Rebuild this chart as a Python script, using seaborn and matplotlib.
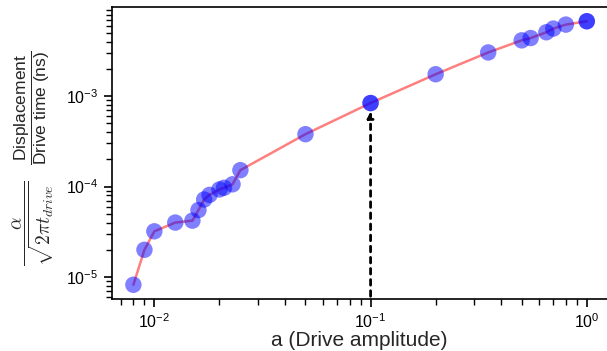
import numpy as np
import pandas as pd
import seaborn as sns
import matplotlib.pyplot as plt
from matplotlib.ticker import LogLocator, NullFormatter

# Measured displacement rate vs drive amplitude
amplitude = [0.008, 0.009, 0.010, 0.0125, 0.015, 0.016, 0.017, 0.018, 0.020,
             0.021, 0.023, 0.025, 0.05, 0.1, 0.2, 0.35, 0.5, 0.55, 0.65, 0.7,
             0.8, 1.0]
rate = [8.2e-6, 2.0e-5, 3.2e-5, 4.0e-5, 4.2e-5, 5.5e-5, 7.2e-5, 8.1e-5, 9.3e-5,
        9.7e-5, 1.06e-4, 1.52e-4, 3.8e-4, 8.4e-4, 1.75e-3, 3.05e-3, 4.15e-3,
        4.4e-3, 5.1e-3, 5.6e-3, 6.2e-3, 6.75e-3]

# Repeated measurements at the reference amplitudes
ref_amplitude = [0.1, 1.0]
ref_rate = [8.4e-4, 6.75e-3]

df = pd.DataFrame({'a': amplitude, 'rate': rate})
ref = pd.DataFrame({'a': ref_amplitude, 'rate': ref_rate})

sns.set_style('ticks')
plt.rcParams['font.family'] = ['Liberation Sans', 'DejaVu Sans']
plt.rcParams['mathtext.fontset'] = 'custom'
plt.rcParams['mathtext.rm'] = 'Liberation Sans'
plt.rcParams['mathtext.it'] = 'Liberation Sans:italic'
plt.rcParams['axes.edgecolor'] = 'black'
plt.rcParams['axes.linewidth'] = 1.2

fig, ax = plt.subplots(figsize=(6.07, 3.51), dpi=100)
fig.subplots_adjust(left=0.184, right=1.0, bottom=0.148, top=0.98)

sns.lineplot(data=df, x='a', y='rate', ax=ax, color='red', alpha=0.5, lw=1.8)
sns.scatterplot(data=df, x='a', y='rate', ax=ax, color='blue', alpha=0.5,
                s=140, edgecolor='none', zorder=3)
sns.scatterplot(data=ref, x='a', y='rate', ax=ax, color='blue', alpha=0.5,
                s=140, edgecolor='none', zorder=3)

ax.set_xscale('log')
ax.set_yscale('log')
ax.set_xlim(0.00635, 1.24)
ax.set_ylim(5.7e-6, 9.7e-3)
for axis in [ax.xaxis, ax.yaxis]:
    axis.set_minor_locator(LogLocator(base=10, subs=np.arange(2, 10), numticks=50))
    axis.set_minor_formatter(NullFormatter())

# dashed arrow pointing at the 0.1 amplitude point
ax.annotate('', xy=(0.1, 7.3e-4), xytext=(0.1, 5.7e-6),
            arrowprops=dict(arrowstyle='-|>', color='black', lw=2,
                            linestyle=(0, (2, 2)), mutation_scale=9))

ax.spines['right'].set_visible(False)
ax.tick_params(which='major', length=6, width=1.2, color='black',
               labelsize=11.5, labelcolor='black', direction='out')
ax.tick_params(which='minor', length=4, width=1.0, color='black',
               direction='out')
ax.tick_params(which='both', top=False, right=False, left=True, bottom=True)

ax.set_xlabel('a (Drive amplitude)', fontsize=15, labelpad=0)
ax.set_ylabel('')

fig.text(0.055, 0.365, r'$\dfrac{\alpha}{\sqrt{2\pi t_{drive}}}$', rotation=90,
         ha='center', va='center', fontsize=14, math_fontfamily='cm')
fig.text(0.053, 0.695, r'$\dfrac{\mathrm{Displacement}}{\mathrm{Drive\ time\ (ns)}}$',
         rotation=90, ha='center', va='center', fontsize=12.5)

plt.savefig('out.png', dpi=100)
